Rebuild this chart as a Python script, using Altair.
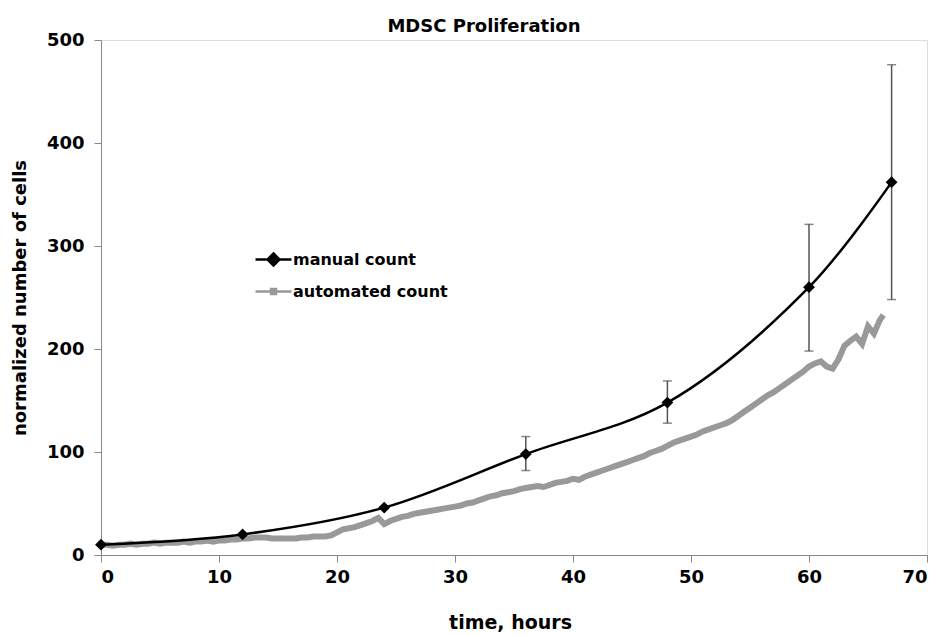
import altair as alt
import pandas as pd

# Manual count (mean with error bars)
manual_t = [0, 12, 24, 36, 48, 60, 67]
manual_v = [10, 20, 46, 98, 148, 260, 362]
err_t = [36, 48, 60, 67]
err_lo = [82, 128, 198, 248]
err_hi = [115, 169, 321, 476]

# Automated count, read every 0.5 h
auto_step = 0.5
auto_v = [
    10, 10, 9, 10, 10, 11, 10, 11, 11, 12, 11, 12, 12, 12, 13, 12, 13, 13, 14, 13,
    14, 14, 15, 15, 16, 16, 17, 17, 17, 16, 16, 16, 16, 16, 17, 17, 18, 18, 18, 19,
    22, 25, 26, 27, 29, 31, 33, 36, 30, 33, 35, 37, 38, 40, 41, 42, 43, 44, 45, 46,
    47, 48, 50, 51, 53, 55, 57, 58, 60, 61, 62, 64, 65, 66, 67, 66, 68, 70, 71, 72,
    74, 73, 76, 78, 80, 82, 84, 86, 88, 90, 92, 94, 96, 99, 101, 103, 106, 109, 111, 113,
    115, 117, 120, 122, 124, 126, 128, 131, 135, 139, 143, 147, 151, 155, 158, 162, 166, 170, 174, 178,
    183, 186, 188, 183, 181, 190, 203, 208, 212, 205, 222, 215, 228,
]
auto_t = [i * auto_step for i in range(len(auto_v))]
auto_t.append(66.3)
auto_v.append(233)

series_names = ["manual count", "automated count"]
series_colors = ["#000000", "#999999"]
legend_paths = [
    "M-1.8,0L1.8,0M0,-0.6L0.6,0L0,0.6L-0.6,0Z",
    "M-1.8,0L1.8,0M-0.25,-0.25L0.25,-0.25L0.25,0.25L-0.25,0.25Z",
]

manual_df = pd.DataFrame({"t": manual_t, "v": manual_v})
err_df = pd.DataFrame({"t": err_t, "lo": err_lo, "hi": err_hi})
auto_df = pd.DataFrame({"t": auto_t, "v": auto_v})
legend_df = pd.DataFrame({"series": series_names})

FONT = "DejaVu Sans"

xscale = alt.Scale(domain=[0, 70], nice=False)
yscale = alt.Scale(domain=[0, 500], nice=False)

xaxis = alt.Axis(
    values=list(range(0, 80, 10)), title="time, hours", grid=False,
    labelFont=FONT, labelFontSize=18, labelFontWeight="bold", labelColor="black",
    titleFont=FONT, titleFontSize=19, titleFontWeight="bold", titleColor="black",
    tickSize=7, labelPadding=6, titleX=409, titleY=67, titleBaseline="middle",
    titleAnchor="middle",
)
yaxis = alt.Axis(
    values=list(range(0, 600, 100)), title="normalized number of cells", grid=False,
    labelFont=FONT, labelFontSize=18, labelFontWeight="bold", labelColor="black",
    titleFont=FONT, titleFontSize=18, titleFontWeight="bold", titleColor="black",
    tickSize=7, labelPadding=10, titleX=-81, titleY=257.5, titleBaseline="middle",
    titleAnchor="middle",
)

x_m = alt.X("t:Q", scale=xscale, axis=xaxis)
y_m = alt.Y("v:Q", scale=yscale, axis=yaxis)

auto_line = alt.Chart(auto_df).mark_line(
    color="#999999", strokeWidth=6, strokeJoin="miter"
).encode(x=x_m, y=y_m, order="t:Q")

manual_line = alt.Chart(manual_df).mark_line(
    color="black", strokeWidth=2.5, interpolate="catmull-rom"
).encode(x="t:Q", y="v:Q")

manual_pts = alt.Chart(manual_df).mark_point(
    shape="diamond", filled=True, color="black", size=140, opacity=1
).encode(x="t:Q", y="v:Q")

err_rule = alt.Chart(err_df).mark_rule(color="#555555", strokeWidth=1.5).encode(
    x="t:Q", y="lo:Q", y2="hi:Q"
)
cap_lo = alt.Chart(err_df).mark_tick(
    orient="horizontal", color="#555555", size=9, thickness=1.5
).encode(x="t:Q", y="lo:Q")
cap_hi = alt.Chart(err_df).mark_tick(
    orient="horizontal", color="#555555", size=9, thickness=1.5
).encode(x="t:Q", y="hi:Q")

legend = alt.Legend(
    title=None, orient="none", legendX=161, legendY=208, padding=0,
    symbolSize=400, symbolStrokeWidth=2.5, symbolOpacity=1, symbolOffset=0,
    labelOffset=8, rowPadding=9, labelFont=FONT, labelFontSize=16,
    labelFontWeight="bold", labelColor="black",
)
legend_layer = alt.Chart(legend_df).mark_point(filled=True, opacity=0).encode(
    x=alt.value(0), y=alt.value(0),
    fill=alt.Fill("series:N", scale=alt.Scale(domain=series_names, range=series_colors), legend=legend),
    stroke=alt.Stroke("series:N", scale=alt.Scale(domain=series_names, range=series_colors), legend=legend),
    shape=alt.Shape("series:N", scale=alt.Scale(domain=series_names, range=legend_paths), legend=legend),
)

chart = alt.layer(
    auto_line, err_rule, cap_lo, cap_hi, manual_line, manual_pts, legend_layer
).properties(
    width=826, height=515,
    autosize=alt.AutoSizeParams(type="none"),
    padding={"left": 93, "top": 32, "right": 11, "bottom": 80},
    title=alt.Title(
        "MDSC Proliferation", font=FONT, fontSize=18, fontWeight="bold",
        color="black", anchor="middle", dx=-30, offset=-5,
    ),
).configure_view(stroke=None).configure_axis(
    domainColor="#666666", tickColor="#666666", domainWidth=1.5, tickWidth=1.5
).configure(background="white")

chart.save("out.html", embed_options={"renderer": "svg", "actions": False})
